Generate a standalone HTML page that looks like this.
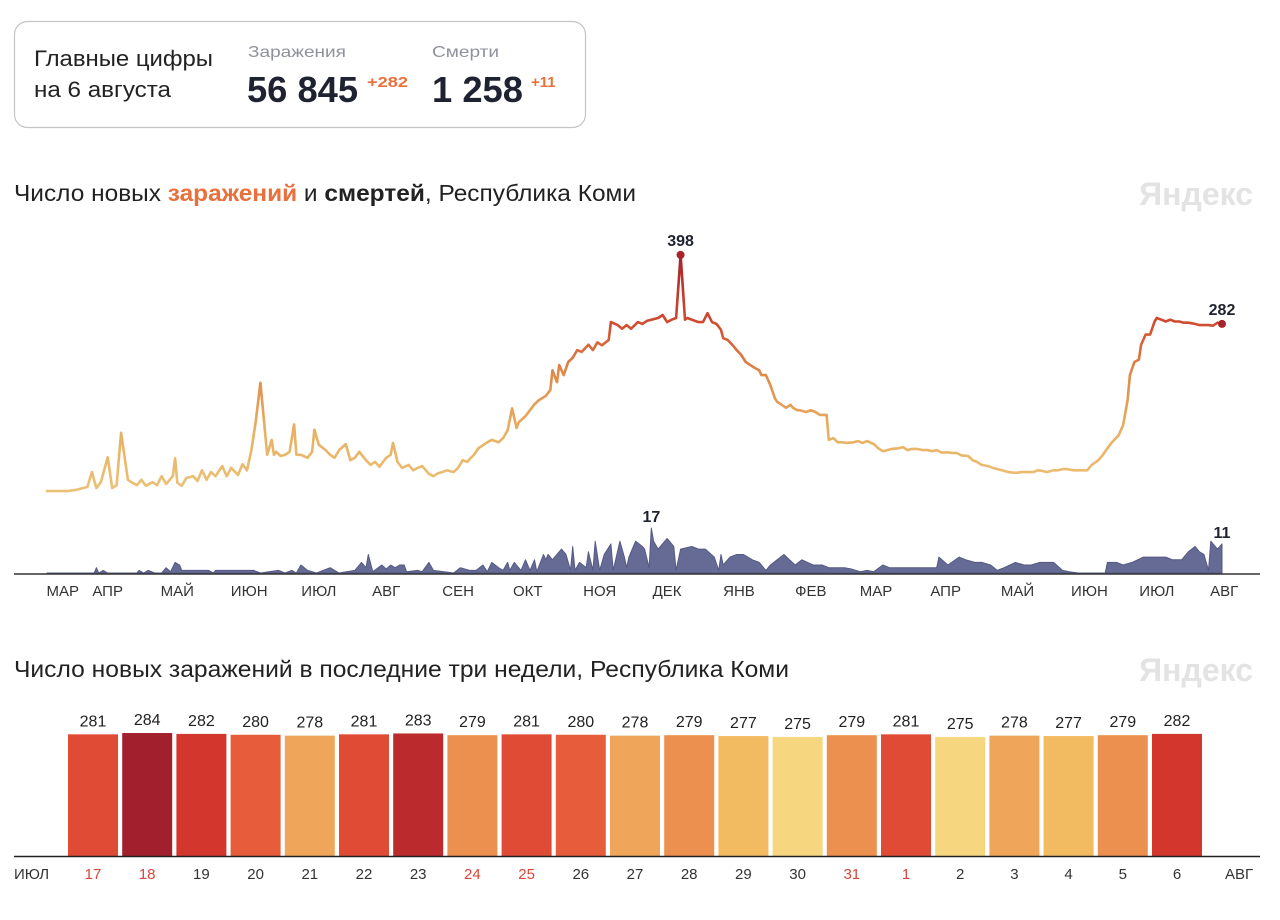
<!DOCTYPE html>
<html><head><meta charset="utf-8">
<style>
body{margin:0;background:#fff;width:1280px;height:920px;overflow:hidden;font-family:"Liberation Sans","DejaVu Sans",sans-serif;color:#222;}
svg{position:absolute;left:0;top:0}
</style></head>
<body>
<svg id="chart" width="1280" height="920" xmlns="http://www.w3.org/2000/svg">
  <defs>
    <linearGradient id="lineGrad" gradientUnits="userSpaceOnUse" x1="0" y1="492" x2="0" y2="255">
      <stop offset="0" stop-color="#ebc177"/>
      <stop offset="0.25" stop-color="#e8b062"/>
      <stop offset="0.5" stop-color="#e08a4a"/>
      <stop offset="0.72" stop-color="#cf4a30"/>
      <stop offset="1" stop-color="#a8232a"/>
    </linearGradient>
  </defs>
  <g>
    <rect x="14.5" y="21.5" width="571" height="106" rx="13" fill="#fff" stroke="#c4c4c4" stroke-width="1.2"/>
    <text x="34" y="66" font-size="22" fill="#222" textLength="179" lengthAdjust="spacingAndGlyphs">Главные цифры</text>
    <text x="34" y="97" font-size="22" fill="#222" textLength="137" lengthAdjust="spacingAndGlyphs">на 6 августа</text>
    <text x="248" y="57" font-size="16" fill="#8d929c" textLength="98" lengthAdjust="spacingAndGlyphs">Заражения</text>
    <text x="247" y="102" font-size="36" font-weight="bold" fill="#1f2230" textLength="111" lengthAdjust="spacingAndGlyphs">56 845</text>
    <text x="367" y="87" font-size="15" font-weight="bold" fill="#e8703c" textLength="41" lengthAdjust="spacingAndGlyphs">+282</text>
    <text x="432" y="57" font-size="16" fill="#8d929c" textLength="67" lengthAdjust="spacingAndGlyphs">Смерти</text>
    <text x="432" y="102" font-size="36" font-weight="bold" fill="#1f2230" textLength="91" lengthAdjust="spacingAndGlyphs">1 258</text>
    <text x="531" y="87" font-size="15" font-weight="bold" fill="#e8703c">+11</text>
  </g>
  <text x="14" y="201" font-size="23" fill="#222" textLength="622" lengthAdjust="spacingAndGlyphs">Число новых <tspan font-weight="bold" fill="#e8703c">заражений</tspan> и <tspan font-weight="bold">смертей</tspan>, Республика Коми</text>
  <text x="1253" y="205" font-size="32" font-weight="bold" fill="#e3e3e3" text-anchor="end">Яндекс</text>
  <g id="lineChart"></g>
  <text x="14" y="677" font-size="23" fill="#222" textLength="775" lengthAdjust="spacingAndGlyphs">Число новых заражений в последние три недели, Республика Коми</text>
  <text x="1253" y="681" font-size="32" font-weight="bold" fill="#e3e3e3" text-anchor="end">Яндекс</text>
  <g id="barChart"></g>
</svg>
<script>
// ---- cases (day index from 1 Mar 2020, value) ----
const caseDays=[0,4,9,13,18,20,22,24,27,29,31,33,36,38,40,42,44,47,49,51,53,56,57,58,60,62,65,67,69,71,73,75,78,80,82,85,87,89,91,93,95,97,98,100,101,102,104,106,108,110,111,113,116,118,119,121,124,126,128,130,133,135,137,139,142,144,146,148,151,153,154,156,158,161,163,165,167,170,172,174,176,178,181,183,185,187,190,192,194,196,198,201,203,205,207,209,210,213,215,217,219,222,224,225,227,228,230,232,234,236,238,241,243,245,247,250,251,254,256,258,260,263,265,267,269,272,274,276,278,280,282,284,285,287,290,292,294,296,298,300,301,303,305,307,309,311,313,315,317,318,320,322,324,325,327,329,331,332,334,335,338,340,342,344,347,348,350,352,354,356,359,361,363,365,368,370,372,374,376,379,381,383,385,387,390,392,394,396,398,401,403,405,407,410,412,414,416,419,421,423,425,428,430,432,434,437,439,441,443,445,448,450,452,454,457,459,461,463,465,468,470,472,474,477,479,481,482,484,486,487,489,491,493,494,496,498,500,502,504,506,508,511,513,515,517,519,521,523];
const caseVals=[1,1,1,3,8,33,6,16,58,6,11,99,20,15,11,20,10,16,11,26,13,26,56,15,10,23,26,18,36,20,33,26,43,26,40,28,46,36,70,120,183,103,62,87,62,67,60,62,67,113,62,62,57,67,104,79,70,62,57,70,80,53,57,67,53,45,50,42,57,62,82,50,40,45,36,40,43,30,26,31,33,36,33,40,53,50,62,73,78,83,87,83,90,103,140,107,117,127,137,147,154,161,171,204,184,213,196,218,225,238,235,247,238,251,246,255,285,280,274,280,274,285,282,287,289,292,297,285,289,292,398,289,292,289,285,285,300,285,282,272,258,255,247,238,230,218,213,208,204,196,196,179,157,151,146,141,146,141,137,137,134,137,134,129,129,87,90,83,83,82,83,85,82,85,80,73,68,70,72,73,75,70,72,72,70,70,68,70,66,66,65,65,61,60,53,50,45,43,40,38,36,33,32,32,33,33,33,36,35,33,36,36,38,38,36,36,36,36,45,53,62,73,83,95,112,154,196,218,222,247,264,264,286,292,289,286,289,286,286,284,284,282,280,280,280,279,284,282];
// ---- deaths ----
const deathDays=[0,21,22,23,25,27,40,41,43,45,48,51,53,55,57,59,60,62,65,72,74,75,92,95,103,106,109,111,113,116,120,126,130,137,140,142,143,145,149,151,153,155,157,159,160,165,167,170,172,181,184,188,191,194,196,198,201,203,205,206,208,211,213,215,217,218,221,222,223,225,226,229,231,233,234,235,237,240,241,243,244,246,248,251,252,255,257,258,259,262,265,266,268,269,270,272,276,279,280,282,287,290,293,297,299,300,301,304,307,310,314,317,320,322,328,333,336,341,345,348,351,355,358,362,365,368,372,375,396,397,401,406,409,413,416,420,423,426,431,435,438,442,445,448,452,455,459,471,472,476,479,483,488,491,494,498,501,505,508,511,513,515,517,518,521,523];
const deathVals=[0,0,2,0,1,0,0,1,0,1,0,0,2,0.5,4,3,1,1,1,1,0,1,1,0,1,0,1,0,3,1,0,2,0,1,4,2,7,0.5,3,1.5,3,2,3,3,0.5,1,0.5,4,1,0,2,1,1,3,0.5,4,2,1,4,1,4,1,5,1,5,0.5,7,5,7,5,6,9,7,1,10,1,4,2,8,1,12,1,7,11,1,12,6,2,6,12,10,9,2,17,12,9,13,10,1,9,10,9,9,6,1,7,3,6,7,7,5,4,1,3,7,3,5,3,3,2,2,2,1.5,0.5,1,0.5,3,2,2,6,3,6,5,4,4,3,1,2,4,3,3,4,4,4,1,0.5,0,0,4,4,3,4,6,6,6,6,5,5,8,10,8,7,1,12,9,11];
const monthLabels=["МАР","АПР","МАЙ","ИЮН","ИЮЛ","АВГ","СЕН","ОКТ","НОЯ","ДЕК","ЯНВ","ФЕВ","МАР","АПР","МАЙ","ИЮН","ИЮЛ","АВГ"];
const monthLabelDays=[7,27,58,90,121,151,183,214,246,276,308,340,369,400,432,464,494,524];
// ---- bars ----
const barDays=["17","18","19","20","21","22","23","24","25","26","27","28","29","30","31","1","2","3","4","5","6"];
const barVals=[281,284,282,280,278,281,283,279,281,280,278,279,277,275,279,281,275,278,277,279,282];
const weekendDays=["17","18","24","25","31","1"];

const NS="http://www.w3.org/2000/svg";
function mk(tag,attrs,parent){const e=document.createElementNS(NS,tag);for(const k in attrs)e.setAttribute(k,attrs[k]);parent.appendChild(e);return e;}

const x=d=>47+d*(1175/523);
const yC=v=>491.7-v*0.595;
const yD=v=>573-v*2.65;
const lc=document.getElementById('lineChart');

let dp="M"+x(deathDays[0])+","+yD(0);
deathDays.forEach((d,i)=>{dp+=" L"+x(d).toFixed(1)+","+yD(deathVals[i]).toFixed(1);});
dp+=" L"+x(deathDays[deathDays.length-1])+","+yD(0)+" Z";
const area=mk('path',{d:dp,fill:'#656b94',stroke:'#555a84','stroke-width':1,'stroke-linejoin':'round'},lc);



const ax=mk('line',{x1:14,x2:1260,y1:574,y2:574,stroke:'#333','stroke-width':1.5},lc);



let cp="";
caseDays.forEach((d,i)=>{cp+=(i?" L":"M")+x(d).toFixed(1)+","+yC(caseVals[i]).toFixed(1);});
const line=mk('path',{d:cp,fill:'none',stroke:'url(#lineGrad)','stroke-width':2.6,'stroke-linejoin':'round','stroke-linecap':'round'},lc);



let pi=0;caseVals.forEach((v,i)=>{if(v>caseVals[pi])pi=i;});
const li=caseVals.length-1;
[[pi,'peak'],[li,'last']].forEach(([i,n])=>{
  const c=mk('circle',{cx:x(caseDays[i]),cy:yC(caseVals[i]),r:4,fill:'#a8232a'},lc);
  
  
  const t=mk('text',{x:x(caseDays[i]),y:yC(caseVals[i])-9,'font-size':16,'font-weight':'bold',fill:'#1f2230','text-anchor':'middle'},lc);
  t.textContent=caseVals[i];
  
  
});
let di=0;deathVals.forEach((v,i)=>{if(v>deathVals[di])di=i;});
const dl=deathVals.length-1;
[[di,'peak'],[dl,'last']].forEach(([i,n])=>{
  const t=mk('text',{x:x(deathDays[i]),y:yD(deathVals[i])-6,'font-size':16,'font-weight':'bold',fill:'#1f2230','text-anchor':'middle'},lc);
  t.textContent=deathVals[i];
  
  
});
monthLabels.forEach((m,i)=>{
  const t=mk('text',{x:x(monthLabelDays[i]),y:596,'font-size':15,fill:'#333','text-anchor':'middle'},lc);
  t.textContent=m;
  
  
});

const bc=document.getElementById('barChart');
const bx=i=>68+i*54.2;
const by=v=>856-v*0.433;
const colorFor=v=>({275:'#f7d680',276:'#f5c96e',277:'#f2bb62',278:'#f0a65a',279:'#ec904f',280:'#e75d3c',281:'#e04b36',282:'#d2362c',283:'#bb2b2d',284:'#a21f2d'})[v]||'#e04b36';
barVals.forEach((v,i)=>{
  const r=mk('rect',{x:bx(i),y:by(v),width:50,height:856-by(v),fill:colorFor(v)},bc);
  
  
  const t=mk('text',{x:bx(i)+25,y:by(v)-8,'font-size':16,fill:'#222','text-anchor':'middle'},bc);
  t.textContent=v;
  
  
  const d=mk('text',{x:bx(i)+25,y:879,'font-size':15,fill:weekendDays.includes(barDays[i])?'#d9463a':'#333','text-anchor':'middle'},bc);
  d.textContent=barDays[i];
  
  
});
const bl=mk('line',{x1:14,x2:1260,y1:856.5,y2:856.5,stroke:'#222','stroke-width':1.5},bc);


const m1=mk('text',{x:14,y:879,'font-size':15,fill:'#333'},bc);
m1.textContent='ИЮЛ';


const m2=mk('text',{x:1225,y:879,'font-size':15,fill:'#333'},bc);
m2.textContent='АВГ';


</script>
</body></html>
